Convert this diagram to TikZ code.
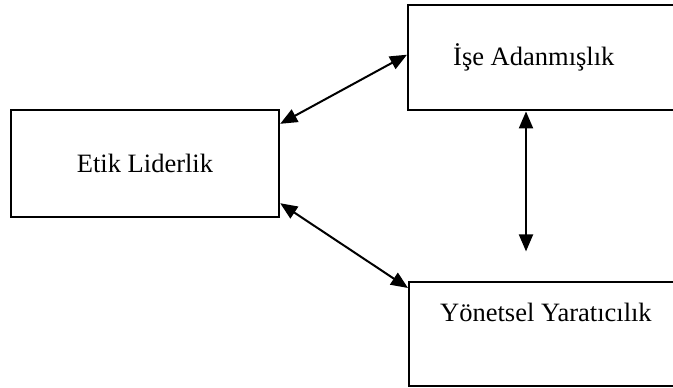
\documentclass[tikz,border=0pt]{standalone}
\usepackage{fontspec}
\setmainfont{Liberation Serif}
\usetikzlibrary{arrows.meta}

\begin{document}
\begin{tikzpicture}[x=0.5pt, y=-0.5pt,
             every node/.style = {draw, shape=rectangle, line width=1.2pt,
                                  font=\fontsize{13.25}{16}\selectfont},
             link/.style = {{Triangle[length=8.5pt, width=7pt]}-{Triangle[length=8.5pt, width=7pt]}, line width=1pt}]
\useasboundingbox (0,0) rectangle (673,387);
\clip (0,0) rectangle (673,387);

\node (etik) at (145,163.5) [minimum width=134pt, minimum height=53.5pt] {Etik Liderlik};
\node (ise) at (407,4) [anchor=north west, inner xsep=22.5pt, text width=160pt, align=flush left,
                        minimum height=52.5pt] {İşe Adanmışlık};
\node (yar) at (408,281) [anchor=north west, inner xsep=15.5pt, inner ysep=2pt, text width=170pt, align=flush left,
                          text height=17.5pt, text depth=30.5pt] {Yönetsel Yaratıcılık};

\coordinate (vend) at ([xshift=59.5pt, yshift=-70pt]ise.south west);

\draw [link] ([yshift=-7.5pt]etik.north east) -- ([yshift=1.5pt]ise.west);
\draw [link] ([yshift=7.5pt]etik.south east) -- ([yshift=-3.5pt]yar.north west);
\draw [link] ([xshift=59.5pt]ise.south west) -- (vend);

\end{tikzpicture}
\end{document}
